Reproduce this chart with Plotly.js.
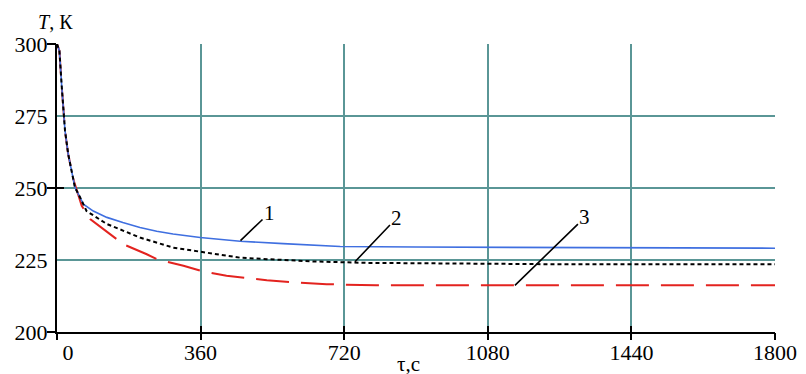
<!DOCTYPE html>
<html>
<head>
<meta charset="utf-8">
<script src="https://cdn.plot.ly/plotly-3.0.1.min.js"></script>
<style>
html,body{margin:0;padding:0;background:#fff;}
#chart{width:806px;height:374px;}
</style>
</head>
<body>
<div id="chart"></div>
<script>
// Curve 1 (blue, solid)
const t1 = [0, 6, 12, 16, 20, 28, 37, 45, 58, 66, 91, 125, 165, 208, 250, 291, 359, 441, 459, 567, 710, 900, 1280, 1800];
const T1 = [300, 297.7, 285, 278, 270, 261.8, 256, 250.2, 246.7, 244.4, 242, 239.8, 238, 236.3, 235, 234, 232.8, 231.7, 231.5, 230.7, 229.7, 229.5, 229.3, 229.1];
// Curve 2 (black, dotted)
const t2 = [0, 6, 12, 16, 20, 28, 37, 45, 58, 74, 125, 208, 291, 359, 459, 526, 642, 777, 1000, 1280, 1800];
const T2 = [300, 297.7, 285, 278, 270, 261.8, 256, 250.2, 246.7, 242, 237.5, 232.8, 229.3, 227.8, 225.8, 225.3, 224.5, 224, 223.7, 223.5, 223.5];
// Curve 3 (red, dashed)
const t3 = [0, 6, 12, 16, 20, 28, 37, 41, 62, 83, 133, 166, 225, 250, 317, 359, 425, 526, 600, 676, 800, 1800];
const T3 = [300, 297.7, 285, 278, 270, 261.8, 256, 253, 243.8, 239.2, 234, 230.5, 227, 225.3, 223, 221.3, 219.5, 218, 217.2, 216.6, 216.2, 216.2];

const xTicks = [0, 360, 720, 1080, 1440, 1800];
const xTickText = ['\u00a0\u00a0\u00a0\u00a00', '360', '720', '1080', '1440', '1800'];
const yTicks = [200, 225, 250, 275, 300];
const yMarkTicks = [200, 250, 300];

const curveLabels = ['1', '2', '3'];
const labelTips = [[460, 231.7], [747, 224.4], [1148, 216.2]];

const serif = '"Liberation Serif", "Times New Roman", serif';
const grid = '#5a9696';

const traces = [
  {x: t3, y: T3, mode: 'lines', line: {color: '#e3231f', width: 2, dash: '33px,12px'}, hoverinfo: 'skip'},
  {x: t1, y: T1, mode: 'lines', line: {color: '#3f6fe0', width: 1.6}, hoverinfo: 'skip'},
  {x: t2, y: T2, mode: 'lines', line: {color: '#000', width: 2, dash: '4px,3px'}, hoverinfo: 'skip'},
  {x: [], y: [], xaxis: 'x2', yaxis: 'y', hoverinfo: 'skip'},
  {x: [], y: [], xaxis: 'x', yaxis: 'y2', hoverinfo: 'skip'},
  {x: [], y: [], xaxis: 'x', yaxis: 'y3', hoverinfo: 'skip'}
];

const offsets = [[29, -28], [42, -44], [70, -68]];
const annotations = curveLabels.map((s, i) => ({
  x: labelTips[i][0], y: labelTips[i][1], xref: 'x', yref: 'y',
  text: s, showarrow: true, arrowhead: 0, arrowwidth: 1.6, arrowcolor: '#000',
  ax: offsets[i][0], ay: offsets[i][1], font: {family: serif, size: 21, color: '#000'}
}));
annotations.push({xref: 'paper', yref: 'paper', x: -0.029, y: 1.03, xanchor: 'left', yanchor: 'bottom',
  text: '<i>T</i>, К', showarrow: false, font: {family: serif, size: 20, color: '#000'}});
annotations.push({xref: 'paper', yref: 'paper', x: 0.489, y: -0.062, xanchor: 'center', yanchor: 'top',
  text: 'τ,c', showarrow: false, font: {family: serif, size: 21, color: '#000'}});

const layout = {
  width: 806, height: 374,
  margin: {l: 57, r: 31, t: 44, b: 42},
  paper_bgcolor: '#fff', plot_bgcolor: '#fff',
  showlegend: false,
  font: {family: serif, size: 22, color: '#000'},
  xaxis: {range: [0, 1800], tickvals: xTicks, ticktext: xTickText, showgrid: true, gridcolor: grid, gridwidth: 2,
    showline: true, linecolor: '#000', linewidth: 2, ticks: 'inside', ticklen: 6, tickwidth: 2, tickcolor: '#000',
    zeroline: false, tickfont: {family: serif, size: 22, color: '#000'}, fixedrange: true},
  xaxis2: {overlaying: 'x', anchor: 'y', range: [0, 1800], tickvals: xTicks, ticks: 'outside', ticklen: 7, tickwidth: 2,
    tickcolor: '#000', showticklabels: false, showgrid: false, showline: false, zeroline: false},
  yaxis: {range: [200, 300], tickvals: yTicks, showgrid: true, gridcolor: grid, gridwidth: 2,
    showline: true, linecolor: '#000', linewidth: 2, ticks: '', zeroline: false, ticklabelstandoff: 3,
    tickfont: {family: serif, size: 22, color: '#000'}, fixedrange: true},
  yaxis2: {overlaying: 'y', anchor: 'x', side: 'left', range: [200, 300], tickvals: yMarkTicks, ticks: 'outside', ticklen: 9,
    tickwidth: 2, tickcolor: '#000', showticklabels: false, showgrid: false, showline: false, zeroline: false},
  yaxis3: {overlaying: 'y', anchor: 'x', side: 'left', range: [200, 300], tickvals: [250, 300], ticks: 'inside', ticklen: 7,
    tickwidth: 2, tickcolor: '#000', showticklabels: false, showgrid: false, showline: false, zeroline: false},
  annotations: annotations
};

Plotly.newPlot('chart', traces, layout, {displayModeBar: false, staticPlot: true});
</script>
</body>
</html>
